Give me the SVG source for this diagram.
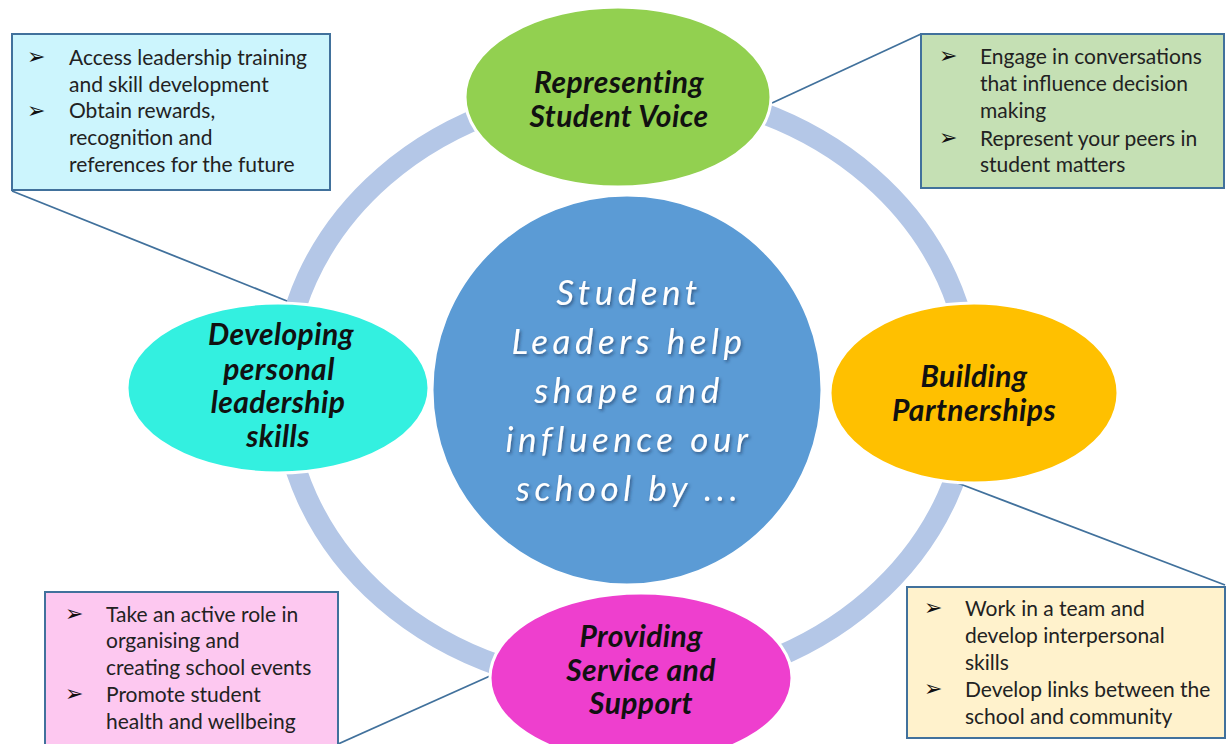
<svg xmlns="http://www.w3.org/2000/svg" width="1227" height="744" viewBox="0 0 1227 744">
<defs>
<style>
.box{stroke:#41719c;stroke-width:2}
.bt{font-family:Lato,"Liberation Sans",sans-serif;font-size:21px;fill:#222}
.bul{font-family:"DejaVu Sans",sans-serif;font-size:22px;fill:#111}
.lbl{font-family:Lato,"Liberation Sans",sans-serif;font-size:30px;font-weight:bold;font-style:italic;fill:#111;text-anchor:middle;letter-spacing:0.4px}
.ctr{font-family:Lato,"Liberation Sans",sans-serif;font-size:35px;font-style:italic;fill:#fff;text-anchor:middle;letter-spacing:4.5px}
.ell{stroke:#fff;stroke-width:3}
.con{stroke:#41719c;stroke-width:1.8;fill:none}
</style>
<filter id="sh" x="-10%" y="-10%" width="120%" height="130%">
<feDropShadow dx="1.5" dy="2" stdDeviation="1.5" flood-color="#1a3555" flood-opacity="0.6"/>
</filter>
</defs>
<rect width="1227" height="744" fill="#fff"/>
<g id="ring">
<ellipse cx="627" cy="388" rx="344" ry="299" fill="none" stroke="#b4c7e7" stroke-width="21"/>
</g>
<g id="connectors">
<line class="con" x1="12" y1="191" x2="287" y2="301"/>
<line class="con" x1="772" y1="103" x2="921" y2="34"/>
<line class="con" x1="955" y1="482" x2="1225" y2="585"/>
<line class="con" x1="490" y1="676" x2="338" y2="744"/>
</g>
<g id="center">
<circle cx="627" cy="390" r="195" fill="#5b9bd5" class="ell"/>
<g filter="url(#sh)">
<text class="ctr" x="629" y="305">Student</text>
<text class="ctr" x="629" y="354">Leaders help</text>
<text class="ctr" x="629" y="403">shape and</text>
<text class="ctr" x="629" y="452">influence our</text>
<text class="ctr" x="629" y="501">school by ...</text>
</g>
</g>
<g id="voice">
<ellipse cx="618" cy="97" rx="153" ry="90" fill="#92d050" class="ell"/>
<text class="lbl" x="619" y="93">Representing</text>
<text class="lbl" x="619" y="127">Student Voice</text>
</g>
<g id="developing">
<ellipse cx="278" cy="388" rx="151" ry="85" fill="#33f0e0" class="ell"/>
<text class="lbl" x="281" y="345">Developing</text>
<text class="lbl" x="279" y="380">personal</text>
<text class="lbl" x="278" y="413">leadership</text>
<text class="lbl" x="278" y="447">skills</text>
</g>
<g id="partnerships">
<ellipse cx="974" cy="393" rx="144" ry="90" fill="#ffc000" class="ell"/>
<text class="lbl" x="974" y="387">Building</text>
<text class="lbl" x="974" y="421">Partnerships</text>
</g>
<g id="service">
<ellipse cx="641" cy="678" rx="151" ry="85" fill="#ee3fce" class="ell"/>
<text class="lbl" x="641" y="647">Providing</text>
<text class="lbl" x="641" y="681">Service and</text>
<text class="lbl" x="641" y="714">Support</text>
</g>
<g id="box-tl">
<rect class="box" x="12" y="34" width="318" height="156" fill="#ccf5fd"/>
<text class="bul" x="27" y="64">➢</text>
<text class="bul" x="27" y="118">➢</text>
<text class="bt" x="69" y="65">Access leadership training</text>
<text class="bt" x="69" y="92">and skill development</text>
<text class="bt" x="69" y="118">Obtain rewards,</text>
<text class="bt" x="69" y="145">recognition and</text>
<text class="bt" x="69" y="172">references for the future</text>
</g>
<g id="box-tr">
<rect class="box" x="921" y="34" width="303" height="154" fill="#c5e0b4"/>
<text class="bul" x="939" y="63">➢</text>
<text class="bul" x="939" y="145">➢</text>
<text class="bt" x="980" y="64">Engage in conversations</text>
<text class="bt" x="980" y="91">that influence decision</text>
<text class="bt" x="980" y="118">making</text>
<text class="bt" x="980" y="146">Represent your peers in</text>
<text class="bt" x="980" y="172">student matters</text>
</g>
<g id="box-bl">
<rect class="box" x="45" y="592" width="293" height="160" fill="#fdc8f0"/>
<text class="bul" x="65" y="621">➢</text>
<text class="bul" x="65" y="701">➢</text>
<text class="bt" x="106" y="622">Take an active role in</text>
<text class="bt" x="106" y="648">organising and</text>
<text class="bt" x="106" y="675">creating school events</text>
<text class="bt" x="106" y="702">Promote student</text>
<text class="bt" x="106" y="729">health and wellbeing</text>
</g>
<g id="box-br">
<rect class="box" x="907" y="587" width="318" height="151" fill="#fff2cc"/>
<text class="bul" x="924" y="615">➢</text>
<text class="bul" x="924" y="696">➢</text>
<text class="bt" x="965" y="616">Work in a team and</text>
<text class="bt" x="965" y="643">develop interpersonal</text>
<text class="bt" x="965" y="670">skills</text>
<text class="bt" x="965" y="697">Develop links between the</text>
<text class="bt" x="965" y="724">school and community</text>
</g>
</svg>
